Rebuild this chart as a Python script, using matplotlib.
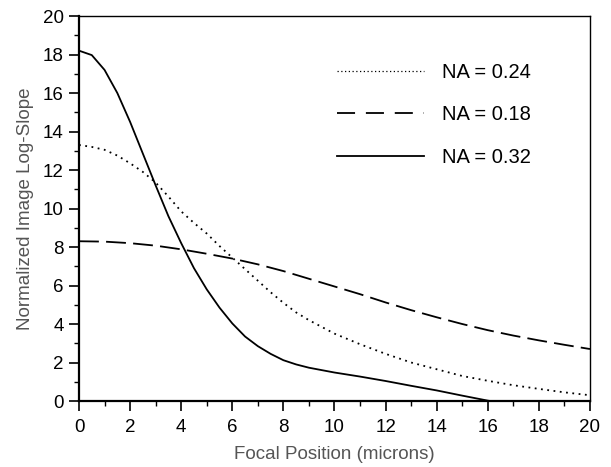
import matplotlib
matplotlib.use('Agg')
import matplotlib.pyplot as plt
from matplotlib.ticker import MultipleLocator
from matplotlib.lines import Line2D

plt.rcParams['font.family'] = ['Liberation Sans', 'DejaVu Sans']

# NA = 0.24 (dotted)
x_024 = [0, 0.5, 1, 1.5, 2, 2.5, 3, 3.5, 4, 4.5, 5, 5.5, 6, 6.5, 7, 7.5, 8, 8.5, 9, 9.5,
         10, 11, 12, 13, 14, 15, 16, 17, 18, 19, 20]
y_024 = [13.3, 13.2, 13.05, 12.75, 12.35, 11.9, 11.35, 10.62, 9.85, 9.25, 8.7, 8.05, 7.45,
         6.85, 6.25, 5.65, 5.1, 4.6, 4.2, 3.85, 3.5, 2.95, 2.45, 2.0, 1.65, 1.3, 1.05, 0.82,
         0.63, 0.45, 0.3]

# NA = 0.18 (dashed)
x_018 = [0, 1, 2, 3, 4, 5, 6, 7, 8, 9, 10, 11, 12, 13, 14, 15, 16, 17, 18, 19, 20]
y_018 = [8.3, 8.28, 8.2, 8.07, 7.88, 7.65, 7.4, 7.1, 6.75, 6.35, 5.95, 5.55, 5.12, 4.72,
         4.35, 4.0, 3.68, 3.4, 3.15, 2.92, 2.7]

# NA = 0.32 (solid)
x_032 = [0, 0.5, 1, 1.5, 2, 2.5, 3, 3.5, 4, 4.5, 5, 5.5, 6, 6.5, 7, 7.5, 8, 8.5, 9, 10,
         11, 12, 13, 14, 15, 16, 16.1]
y_032 = [18.2, 17.97, 17.2, 16.0, 14.5, 12.85, 11.2, 9.6, 8.2, 6.9, 5.8, 4.85, 4.03,
         3.35, 2.85, 2.45, 2.12, 1.9, 1.73, 1.48, 1.27, 1.04, 0.79, 0.55, 0.28, 0.02, 0.0]

fig = plt.figure(figsize=(6.11, 4.67), dpi=100)
ax = fig.add_axes([0.1293, 0.1413, 0.8363, 0.8244])

ax.plot(x_024, y_024, color='black', lw=1.3, linestyle=(0, (1, 2.5)))
ax.plot(x_018, y_018, color='black', lw=1.3, linestyle=(0, (11, 4)))
ax.plot(x_032, y_032, color='black', lw=1.3, linestyle='-')

ax.set_xlim(0, 20)
ax.set_ylim(0, 20)
ax.xaxis.set_major_locator(MultipleLocator(2))
ax.xaxis.set_minor_locator(MultipleLocator(1))
ax.yaxis.set_major_locator(MultipleLocator(2))
ax.yaxis.set_minor_locator(MultipleLocator(1))
ax.tick_params(which='major', direction='out', length=7, width=1.2, labelsize=13.5,
               colors='black', pad=4)
ax.tick_params(axis='x', which='major', pad=6)
ax.tick_params(which='minor', direction='out', length=3.5, width=1.0)
for side in ['left', 'bottom']:
    ax.spines[side].set_linewidth(1.6)
for side in ['top', 'right']:
    ax.spines[side].set_linewidth(1.0)

ax.set_xlabel('Focal Position (microns)', fontsize=13.5, color='#555555', labelpad=7)
ax.set_ylabel('Normalized Image Log-Slope', fontsize=13.5, color='#555555', labelpad=6)

handles = [
    Line2D([], [], color='black', lw=0.9, linestyle=(0, (1, 2))),
    Line2D([], [], color='black', lw=1.3, linestyle=(0, (10, 6))),
    Line2D([], [], color='black', lw=1.3, linestyle='-'),
]
ax.legend(handles, ['NA = 0.24', 'NA = 0.18', 'NA = 0.32'], frameon=False,
          loc='upper left', bbox_to_anchor=(0.49, 0.90), handlelength=4.3,
          handletextpad=0.9, labelspacing=1.17, fontsize=14.5, borderaxespad=0)

fig.savefig('out.png', dpi=100)
